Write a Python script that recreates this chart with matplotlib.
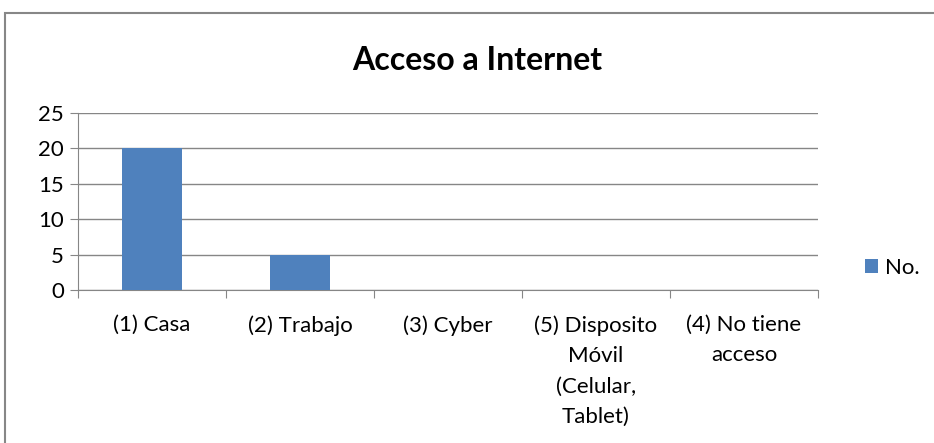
import matplotlib.pyplot as plt
from matplotlib.patches import Rectangle

categories = ['(1) Casa', '(2) Trabajo', '(3) Cyber',
              '(5) Disposito\nMóvil\n(Celular,\nTablet)', '(4) No tiene\nacceso']
values = [20, 5, 0, 0, 0]
yticks = [0, 5, 10, 15, 20, 25]

plt.rcParams['font.family'] = ['Lato', 'DejaVu Sans']
grid_col = '#868686'
bar_col = '#4f81bd'

fig = plt.figure(figsize=(9.34, 4.43), dpi=100)
ax = fig.add_axes([78 / 934, 1 - 290 / 443, 740 / 934, 177 / 443])

x = range(len(categories))
ax.bar(x, values, width=0.4, color=bar_col, label='No.', zorder=3)
ax.set_xlim(-0.5, len(categories) - 0.5)
ax.set_ylim(0, 25)
ax.set_yticks(yticks)
ax.tick_params(axis='y', labelsize=16, length=6, color=grid_col, pad=4)
ax.yaxis.grid(True, color=grid_col, linewidth=1, zorder=0)

ax.set_xticks([i + 0.5 for i in range(-1, len(categories))], minor=False)
ax.set_xticklabels([])
ax.tick_params(axis='x', length=6, color=grid_col)
ax.set_xticks(list(x), minor=True)
ax.set_xticklabels(categories, minor=True, fontsize=16, linespacing=1.65,
                   ha='center', va='top')
ax.tick_params(axis='x', which='minor', length=0, pad=18)

for side in ['top', 'right']:
    ax.spines[side].set_visible(False)
ax.spines['left'].set_color(grid_col)
ax.spines['bottom'].set_color(grid_col)

fig.text(477 / 934, 1 - 60 / 443, 'Acceso a Internet', ha='center', va='center',
         fontsize=23, fontweight='bold')

leg = fig.legend(loc='center left', bbox_to_anchor=(845 / 934, 1 - 268 / 443),
                 frameon=False, fontsize=16, handlelength=0.6, handleheight=0.6,
                 handletextpad=0.3)

fig.patches.append(Rectangle((5 / 934, -0.1), 1.2, 0.1 + 1 - 13 / 443,
                             transform=fig.transFigure, fill=False,
                             edgecolor='#878787', linewidth=1.5))

fig.savefig('out.png', dpi=100)
